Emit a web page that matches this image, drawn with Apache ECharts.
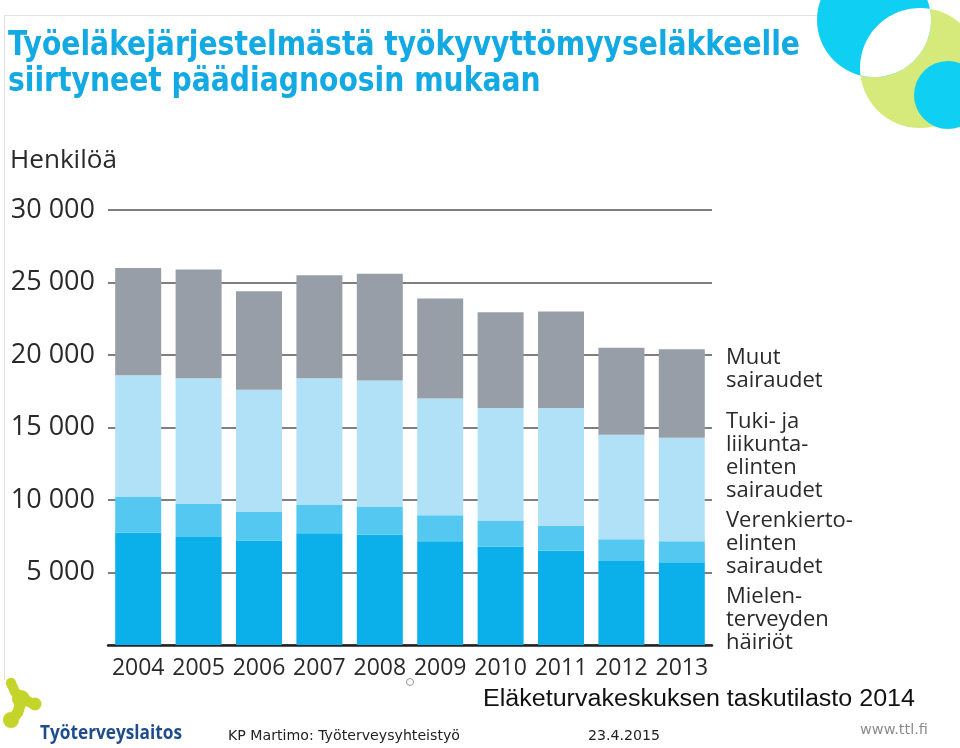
<!DOCTYPE html>
<html>
<head>
<meta charset="utf-8">
<script src="https://cdn.jsdelivr.net/npm/echarts@6/dist/echarts.min.js"></script>
<style>html,body{margin:0;padding:0;background:#fff}#c{width:960px;height:748px}</style>
</head>
<body>
<div id="c"></div>
<script>
// ---- data ----
const years = ['2004','2005','2006','2007','2008','2009','2010','2011','2012','2013'];
const mielenterveys = [7750, 7450, 7200, 7700, 7600, 7150, 6800, 6500, 5800, 5700];
const verenkierto   = [2450, 2300, 2000, 1950, 1950, 1800, 1750, 1700, 1500, 1450];
const tukiJaLiikunta = [8400, 8650, 8400, 8750, 8700, 8050, 7800, 8150, 7200, 7150];
const muut          = [7400, 7500, 6800, 7100, 7350, 6900, 6600, 6650, 6000, 6100];
const seriesNames = ['Mielenterveyden häiriöt','Verenkiertoelinten sairaudet','Tuki- ja liikuntaelinten sairaudet','Muut sairaudet'];
const legendTexts = ['Muut\nsairaudet','Tuki- ja\nliikunta-\nelinten\nsairaudet','Verenkierto-\nelinten\nsairaudet','Mielen-\nterveyden\nhäiriöt'];

// ---- helpers ----
const cnv = document.createElement('canvas').getContext('2d');
function fitScale(text, font, target){ cnv.font = font; const w = cnv.measureText(text).width; return w > 0 ? target / w : 1; }
function fmt(v){ if (v === 0) return ''; return String(v).replace(/\B(?=(\d{3})+(?!\d))/g, ' '); }

const colors = ['#0bafe9', '#55c8f1', '#b1e1f6', '#989ea7'];
const seriesData = [mielenterveys, verenkierto, tukiJaLiikunta, muut];

// decorative circles (top right)
const c1 = {x:874, y:20, r:57}, c2 = {x:920, y:68, r:60};
function lensPoints(a, b){
  const dx=b.x-a.x, dy=b.y-a.y, d=Math.hypot(dx,dy);
  const m=(a.r*a.r-b.r*b.r+d*d)/(2*d), h=Math.sqrt(a.r*a.r-m*m);
  const px=a.x+m*dx/d, py=a.y+m*dy/d;
  const i1={x:px-h*dy/d, y:py+h*dx/d}, i2={x:px+h*dy/d, y:py-h*dx/d};
  const pts=[];
  function arc(c, p, q){
    let s=Math.atan2(p.y-c.y,p.x-c.x), e=Math.atan2(q.y-c.y,q.x-c.x);
    let diff=e-s; while(diff>Math.PI) diff-=2*Math.PI; while(diff<-Math.PI) diff+=2*Math.PI;
    for(let k=0;k<=40;k++){ const t=s+diff*k/40; pts.push([c.x+c.r*Math.cos(t), c.y+c.r*Math.sin(t)]); }
  }
  arc(a, i1, i2); arc(b, i2, i1);
  return pts;
}

const titleFont = 'bold 33px "Liberation Sans Narrow","DejaVu Sans Condensed","Roboto",sans-serif';
const t1 = 'Työeläkejärjestelmästä työkyvyttömyyseläkkeelle';
const t2 = 'siirtyneet päädiagnoosin mukaan';
const tScale = fitScale(t1, titleFont, 792);

const logoFont = 'bold 20px "Open Sans",sans-serif';
const footFont = '14px "DejaVu Sans",sans-serif';
const srcFont = '23px "Liberation Sans",Arial,sans-serif';

const legendFont = '22px "Open Sans",sans-serif';
const legendY = [369, 456, 544, 620];
const lime = '#c5d42b';

const graphic = [
  {type:'line', shape:{x1:5,y1:15.5,x2:856,y2:15.5}, style:{stroke:'#e2e2e2', lineWidth:1}},
  {type:'line', shape:{x1:4.5,y1:15,x2:4.5,y2:680}, style:{stroke:'#e2e2e2', lineWidth:1}},
  {type:'circle', shape:{cx:c2.x, cy:c2.y, r:c2.r}, style:{fill:'#d5ea7a'}},
  {type:'circle', shape:{cx:c1.x, cy:c1.y, r:c1.r}, style:{fill:'#0fd0f2'}},
  {type:'polygon', shape:{points: lensPoints(c1, c2)}, style:{fill:'#ffffff'}},
  {type:'circle', shape:{cx:948, cy:95, r:34}, style:{fill:'#0fd0f2'}},
  {type:'text', x:8, y:46, scaleX:tScale, style:{text:t1, font:titleFont, fill:'#13aae3', textVerticalAlign:'middle'}},
  {type:'text', x:8, y:82, scaleX:tScale, style:{text:t2, font:titleFont, fill:'#13aae3', textVerticalAlign:'middle'}},
  {type:'text', x:10, y:161, scaleX:fitScale('Henkilöä','25px "Open Sans",sans-serif',107), style:{text:'Henkilöä', font:'25px "Open Sans",sans-serif', fill:'#2a2a2a', textVerticalAlign:'middle'}},
  {type:'text', x:483, y:700, scaleX:fitScale('Eläketurvakeskuksen taskutilasto 2014', srcFont, 432), style:{text:'Eläketurvakeskuksen taskutilasto 2014', font:srcFont, fill:'#111', textVerticalAlign:'middle'}},
  {type:'text', x:40, y:733, scaleX:fitScale('Työterveyslaitos', logoFont, 142), style:{text:'Työterveyslaitos', font:logoFont, fill:'#1f4d8c', textVerticalAlign:'middle'}},
  {type:'text', x:228, y:736, scaleX:fitScale('KP Martimo: Työterveysyhteistyö', footFont, 232), style:{text:'KP Martimo: Työterveysyhteistyö', font:footFont, fill:'#222', textVerticalAlign:'middle'}},
  {type:'text', x:588, y:736, scaleX:fitScale('23.4.2015', footFont, 72), style:{text:'23.4.2015', font:footFont, fill:'#222', textVerticalAlign:'middle'}},
  {type:'text', x:860, y:730, scaleX:fitScale('www.ttl.fi', footFont, 68), style:{text:'www.ttl.fi', font:footFont, fill:'#8c8c8c', textVerticalAlign:'middle'}},
  // logo blob
  {type:'polyline', shape:{points:[[11,683],[15,692],[22,698],[33,704]]}, style:{stroke:lime, lineWidth:10, lineCap:'round', lineJoin:'round', fill:null}},
  {type:'polyline', shape:{points:[[22,698],[18,712],[12,720]]}, style:{stroke:lime, lineWidth:11, lineCap:'round', lineJoin:'round', fill:null}},
  {type:'circle', shape:{cx:21, cy:699, r:9}, style:{fill:lime}},
  {type:'circle', shape:{cx:11, cy:683, r:5}, style:{fill:lime}},
  {type:'circle', shape:{cx:35, cy:704, r:6.5}, style:{fill:lime}},
  {type:'circle', shape:{cx:11, cy:720, r:8}, style:{fill:lime}},
  {type:'circle', shape:{cx:410, cy:682, r:3.5}, style:{fill:null, stroke:'#9a9a9a', lineWidth:1}}
];
legendTexts.forEach((t, i) => {
  graphic.push({type:'text', x:726, y:legendY[i], style:{text:t, font:legendFont, lineHeight:23, fill:'#2a2a2a', textVerticalAlign:'middle'}});
});

const chart = echarts.init(document.getElementById('c'), null, {renderer:'canvas'});
chart.setOption({
  backgroundColor:'#ffffff',
  animation:false,
  grid:{left:108, top:210, width:604, height:435, containLabel:false},
  xAxis:{
    type:'category', data:years,
    axisLine:{show:true, lineStyle:{color:'#222', width:2.5}},
    axisTick:{show:false},
    axisLabel:{interval:0, hideOverlap:false, color:'#2a2a2a', fontSize:23, fontFamily:'"Open Sans",sans-serif', margin:12}
  },
  yAxis:{
    type:'value', min:0, max:30000, interval:5000,
    axisLine:{show:false}, axisTick:{show:false},
    axisLabel:{color:'#2a2a2a', fontSize:27, fontFamily:'"Open Sans",sans-serif', margin:13, formatter:fmt},
    splitLine:{show:true, lineStyle:{color:'#555', width:1.5}}
  },
  series: seriesData.map((d, i) => ({
    name: seriesNames[i], type:'bar', stack:'total', barWidth:46,
    data:d, itemStyle:{color:colors[i]}, emphasis:{disabled:true}
  })),
  graphic: graphic
});
</script>
</body>
</html>
